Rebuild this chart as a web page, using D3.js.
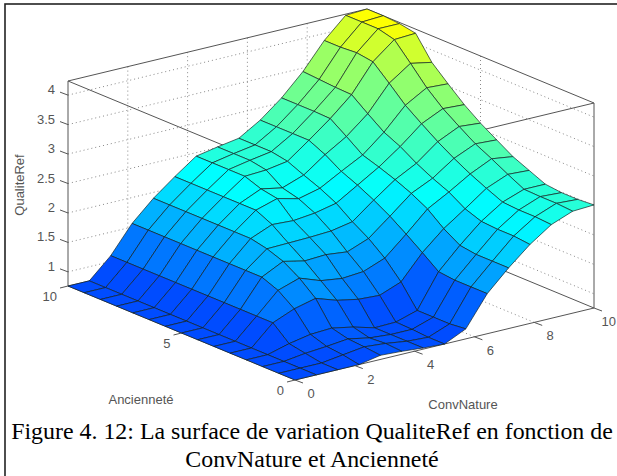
<!DOCTYPE html>
<html>
<head>
<meta charset="utf-8">
<script src="https://cdnjs.cloudflare.com/ajax/libs/d3/7.8.5/d3.min.js"></script>
<style>
html, body { margin: 0; padding: 0; background: #fff; overflow: hidden; }
svg { display: block; }
text { font-family: "Liberation Sans", Arial, sans-serif; }
</style>
</head>
<body>
<script>
// grid positions along the two horizontal axes (gensurf default, 15 points)
var convNature = [0, 0.714, 1.429, 2.143, 2.857, 3.571, 4.286, 5, 5.714, 6.429, 7.143, 7.857, 8.571, 9.286, 10];
var anciennete = [0, 0.714, 1.429, 2.143, 2.857, 3.571, 4.286, 5, 5.714, 6.429, 7.143, 7.857, 8.571, 9.286, 10];

// QualiteRef, one row per anciennete value
var qualite = [
  [0.76, 0.76, 0.76, 0.76, 0.83, 0.81, 0.78, 0.76, 0.93, 1.44, 1.79, 2.10, 2.35, 2.49, 2.51],
  [0.76, 0.76, 0.76, 0.81, 0.86, 0.83, 0.78, 0.76, 0.90, 1.44, 1.79, 2.13, 2.37, 2.51, 2.49],
  [0.76, 0.76, 0.81, 0.84, 0.88, 0.81, 0.78, 0.78, 0.90, 1.44, 1.79, 2.13, 2.37, 2.51, 2.49],
  [0.76, 0.76, 0.86, 0.93, 0.95, 0.88, 0.78, 0.79, 0.90, 1.47, 1.83, 2.15, 2.39, 2.52, 2.52],
  [0.76, 0.76, 1.10, 1.25, 1.34, 1.22, 1.15, 1.13, 1.27, 1.68, 2.00, 2.25, 2.51, 2.66, 2.64],
  [0.76, 0.76, 1.10, 1.45, 1.57, 1.44, 1.39, 1.42, 1.56, 1.88, 2.22, 2.42, 2.64, 2.81, 2.76],
  [0.76, 0.76, 1.10, 1.56, 1.74, 1.66, 1.68, 1.64, 1.78, 2.07, 2.37, 2.54, 2.79, 2.95, 2.93],
  [0.76, 0.76, 1.10, 1.56, 1.84, 1.85, 1.86, 1.88, 1.95, 2.23, 2.49, 2.68, 2.96, 3.13, 3.10],
  [0.76, 0.76, 1.10, 1.56, 1.90, 2.05, 2.03, 2.07, 2.15, 2.37, 2.59, 2.85, 3.15, 3.32, 3.30],
  [0.76, 0.76, 1.10, 1.56, 1.90, 2.18, 2.29, 2.20, 2.29, 2.49, 2.68, 2.98, 3.35, 3.56, 3.54],
  [0.76, 0.76, 1.10, 1.56, 1.90, 2.18, 2.34, 2.27, 2.40, 2.66, 2.88, 3.18, 3.61, 3.86, 3.79],
  [0.76, 0.76, 1.10, 1.56, 1.90, 2.18, 2.44, 2.46, 2.52, 2.79, 3.07, 3.39, 3.86, 4.15, 4.17],
  [0.76, 0.76, 1.10, 1.56, 1.90, 2.18, 2.44, 2.51, 2.57, 2.79, 3.08, 3.40, 3.90, 4.22, 4.22],
  [0.76, 0.76, 1.10, 1.56, 1.90, 2.18, 2.44, 2.51, 2.57, 2.79, 3.08, 3.42, 3.88, 4.22, 4.24],
  [0.76, 0.76, 1.10, 1.56, 1.90, 2.18, 2.44, 2.51, 2.57, 2.79, 3.08, 3.44, 3.88, 4.22, 4.24]
];

var xTicks = [0, 2, 4, 6, 8, 10];
var yTicks = [0, 5, 10];
var zTicks = [1, 1.5, 2, 2.5, 3, 3.5, 4];
var zTickLabels = ['1', '1.5', '2', '2.5', '3', '3.5', '4'];

var captionLines = [
  'Figure 4. 12: La surface de variation QualiteRef en fonction de',
  'ConvNature et Ancienneté'
];

var width = 617, height = 476;

var svg = d3.select('body').append('svg')
            .attr('width', width)
            .attr('height', height);

svg.append('rect').attr('width', width).attr('height', height).style('fill', '#fff');

// oblique projection of the matlab box: each data axis gets its own pixel scales
var xToPx = d3.scaleLinear().domain([0, 10]).range([0, 299]);
var xToPy = d3.scaleLinear().domain([0, 10]).range([0, -72]);
var yToPx = d3.scaleLinear().domain([0, 10]).range([0, -227]);
var yToPy = d3.scaleLinear().domain([0, 10]).range([0, -94]);
var zToPy = d3.scaleLinear().domain([0.76, 4.24]).range([0, -205]);

var zMin = 0.76, zMax = 4.24;

function project(x, y, z) {
  return [295 + xToPx(x) + yToPx(y), 380 + xToPy(x) + yToPy(y) + zToPy(z)];
}

// jet colormap, only the part from blue to yellow is used
var color = d3.scaleLinear()
              .domain([0.15, 2.185, 4.235])
              .range(['#0000ff', '#00ffff', '#ffff00'])
              .clamp(true);

var line = d3.line();

function seg(g, a, b) {
  return g.append('path').attr('d', line([a, b])).style('fill', 'none');
}

// back walls and floor grid
var grid = svg.append('g')
              .style('stroke', '#888')
              .style('stroke-width', 1)
              .style('stroke-dasharray', '1,3');

zTicks.forEach(function(z) {
  seg(grid, project(0, 10, z), project(10, 10, z));
  seg(grid, project(10, 10, z), project(10, 0, z));
});
xTicks.slice(1, -1).forEach(function(x) {
  seg(grid, project(x, 10, zMin), project(x, 10, zMax));
  seg(grid, project(x, 0, zMin), project(x, 10, zMin));
});
seg(grid, project(10, 5, zMin), project(10, 5, zMax));
seg(grid, project(0, 5, zMin), project(10, 5, zMin));

// box edges behind the surface
var box = svg.append('g')
             .style('stroke', '#555')
             .style('stroke-width', 1);

seg(box, project(0, 10, zMin), project(10, 10, zMin));
seg(box, project(10, 10, zMin), project(10, 0, zMin));
seg(box, project(0, 10, zMin), project(0, 10, zMax));
seg(box, project(10, 0, zMin), project(10, 0, zMax));
seg(box, project(10, 10, zMin), project(10, 10, zMax));
seg(box, project(0, 10, zMax), project(10, 10, zMax));
seg(box, project(10, 10, zMax), project(10, 0, zMax));
seg(box, project(0, 0, zMin), project(10, 0, zMin));
seg(box, project(0, 0, zMin), project(0, 10, zMin));

// surface faces, far corner first so the near ones paint over
var faces = [];
d3.range(anciennete.length - 2, -1, -1).forEach(function(j) {
  d3.range(convNature.length - 2, -1, -1).forEach(function(i) {
    faces.push({i: i, j: j});
  });
});

svg.append('g').selectAll('path')
   .data(faces)
   .join('path')
   .attr('d', function(d) {
     var i = d.i, j = d.j;
     return line([
       project(convNature[i], anciennete[j], qualite[j][i]),
       project(convNature[i + 1], anciennete[j], qualite[j][i + 1]),
       project(convNature[i + 1], anciennete[j + 1], qualite[j + 1][i + 1]),
       project(convNature[i], anciennete[j + 1], qualite[j + 1][i])
     ]) + 'Z';
   })
   .style('fill', function(d) { return color(qualite[d.j][d.i]); })
   .style('stroke', '#102020')
   .style('stroke-width', 0.9)
   .style('stroke-opacity', 0.75)
   .style('stroke-linejoin', 'round');

// box edges that matlab draws over the surface
seg(box, project(0, 0, zMin), project(0, 0, zMax)).style('stroke', '#000');
seg(box, project(0, 0, zMax), project(0, 10, zMax));
seg(box, project(0, 0, zMax), project(10, 0, zMax));

// ticks
var ticks = svg.append('g').style('stroke', '#555').style('stroke-width', 1);
zTicks.forEach(function(z) {
  var p = project(0, 10, z);
  seg(ticks, p, [p[0] - 8, p[1] - 3]);
});
yTicks.forEach(function(y) {
  var p = project(0, y, zMin);
  seg(ticks, p, [p[0] - 8, p[1] + 2]);
});
xTicks.forEach(function(x) {
  var p = project(x, 0, zMin);
  seg(ticks, p, [p[0] + 8, p[1] + 3]);
});

// tick labels
var labels = svg.append('g').style('fill', '#555').style('font-size', '13px');

zTicks.forEach(function(z, k) {
  var p = project(0, 10, z);
  labels.append('text')
        .attr('x', p[0] - 13).attr('y', p[1] - 1)
        .style('text-anchor', 'end')
        .text(zTickLabels[k]);
});
yTicks.forEach(function(y) {
  var p = project(0, y, zMin);
  labels.append('text')
        .attr('x', p[0] - 11).attr('y', p[1] + 15)
        .style('text-anchor', 'end')
        .text(y);
});
xTicks.forEach(function(x) {
  var p = project(x, 0, zMin);
  labels.append('text')
        .attr('x', x == 10 ? 616 : p[0] + 16).attr('y', p[1] + 18)
        .style('text-anchor', x == 10 ? 'end' : 'middle')
        .text(x);
});

// axis titles
svg.append('text').attr('x', 141).attr('y', 404)
   .style('text-anchor', 'middle').style('font-size', '13px').style('fill', '#555')
   .text('Ancienneté');
svg.append('text').attr('x', 463).attr('y', 409)
   .style('text-anchor', 'middle').style('font-size', '13px').style('fill', '#555')
   .text('ConvNature');
svg.append('text')
   .attr('transform', 'translate(24,185) rotate(-90)')
   .style('text-anchor', 'middle').style('font-size', '13px').style('fill', '#555')
   .text('QualiteRef');

// caption under the figure
svg.selectAll('.caption')
   .data(captionLines)
   .join('text')
   .attr('class', 'caption')
   .attr('x', 312)
   .attr('y', function(d, k) { return 439 + k * 28; })
   .style('text-anchor', 'middle')
   .style('font-family', '"Liberation Serif", "Times New Roman", serif')
   .style('font-size', '23.9px')
   .style('fill', '#000')
   .text(function(d) { return d; });

// frame of the pasted image
svg.append('rect')
   .attr('x', 5).attr('y', 4)
   .attr('width', 620).attr('height', 480)
   .style('fill', 'none')
   .style('stroke', '#222')
   .style('stroke-width', 1.6);
</script>
</body>
</html>
